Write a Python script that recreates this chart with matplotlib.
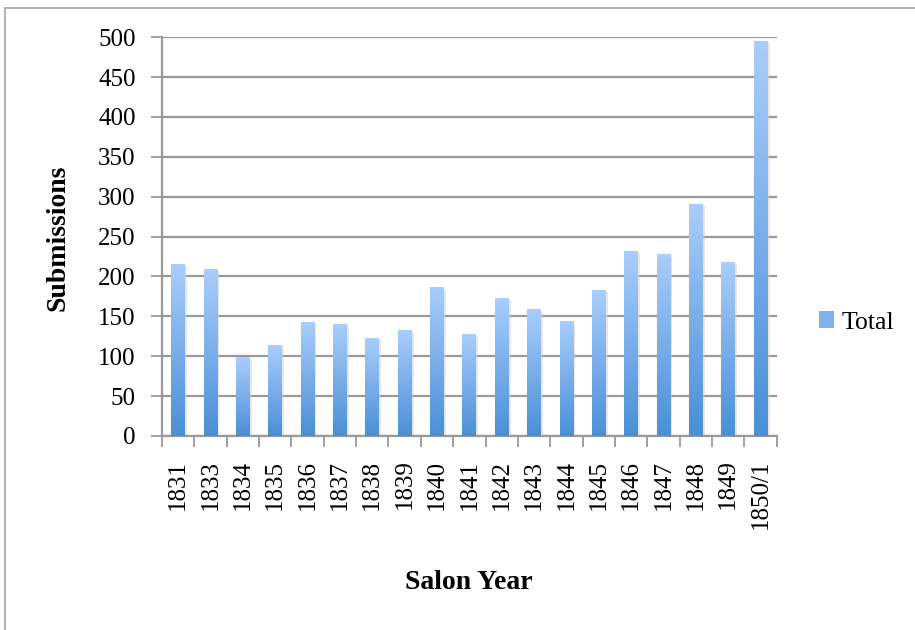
import numpy as np
import matplotlib.pyplot as plt
from matplotlib.colors import LinearSegmentedColormap
from matplotlib.patches import Rectangle

years = ['1831', '1833', '1834', '1835', '1836', '1837', '1838', '1839', '1840',
         '1841', '1842', '1843', '1844', '1845', '1846', '1847', '1848', '1849', '1850/1']
totals = [215, 209, 98, 113, 142, 140, 122, 132, 186,
          127, 172, 158, 143, 182, 231, 227, 290, 217, 495]

plt.rcParams['font.family'] = ['Liberation Serif', 'DejaVu Serif']

fig = plt.figure(figsize=(9.15, 6.3), dpi=100)
ax = fig.add_axes([0.177, 0.308, 0.672, 0.633])

blues = LinearSegmentedColormap.from_list('bar_blue', ['#4a8fd6', '#a9cdfc'])
grad = np.linspace(0, 1, 256).reshape(-1, 1)
width = 0.43

x = np.arange(len(years))
for xi, val in zip(x, totals):
    # soft shadow on the right side of each bar
    ax.add_patch(Rectangle((xi - width / 2 + 0.06, 0), width, val - 2,
                           facecolor='#d0d0d0', edgecolor='none', alpha=0.5, zorder=2))
    ax.imshow(grad, extent=[xi - width / 2, xi + width / 2, 0, val], origin='lower',
              aspect='auto', cmap=blues, zorder=3, interpolation='bilinear')

ax.set_xlim(-0.5, len(years) - 0.5)
ax.set_ylim(0, 500)
ax.set_yticks(np.arange(0, 501, 50))
ax.set_xticks(x)
ax.set_xticklabels(years, rotation=90, fontsize=18)
ax.set_xticks(np.arange(-0.5, len(years), 1), minor=True)
ax.tick_params(axis='x', which='major', length=0, pad=17)
ax.tick_params(axis='x', which='minor', length=8, width=1.3, color='#999999', direction='out')
ax.tick_params(axis='y', length=8, width=1.3, color='#999999', direction='out', labelsize=18, pad=11)

ax.grid(axis='y', color='#999999', linewidth=1.6, zorder=1)
ax.set_axisbelow(True)
for side in ['top', 'right']:
    ax.spines[side].set_visible(False)
for side in ['left', 'bottom']:
    ax.spines[side].set_color('#999999')
    ax.spines[side].set_linewidth(1.6)

fig.text(0.063, 0.623, 'Submissions', fontsize=20, fontweight='bold', rotation=90,
         ha='center', va='center')
fig.text(0.512, 0.075, 'Salon Year', fontsize=20, fontweight='bold', ha='center', va='center')

# legend
handle = Rectangle((0, 0), 1, 1, facecolor='#7fb0ec', edgecolor='none')
fig.legend([handle], ['Total'], loc='center left', bbox_to_anchor=(0.895, 0.488),
           frameon=False, fontsize=18.5, handlelength=0.6, handleheight=0.6,
           handletextpad=0.3, borderpad=0, borderaxespad=0)

# outer chart border
fig.add_artist(Rectangle((0.005, -0.01), 1.1, 0.997, transform=fig.transFigure,
                         facecolor='none', edgecolor='#aaaaaa', linewidth=1.3))

fig.savefig('out.png', dpi=100)
